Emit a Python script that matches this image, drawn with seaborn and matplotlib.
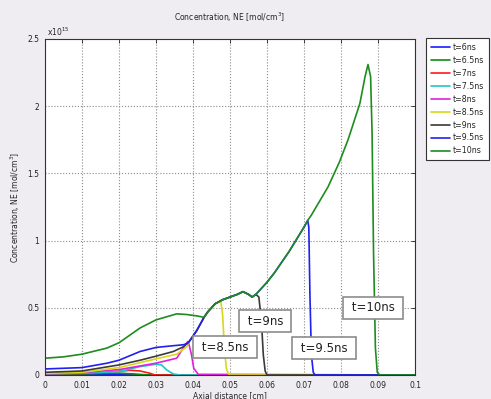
import matplotlib
matplotlib.use('Agg')
import matplotlib.pyplot as plt
import pandas as pd
import seaborn as sns


# values in units of 1e15 mol/cm^3, x in cm
labels = ['t=6ns', 't=6.5ns', 't=7ns', 't=7.5ns', 't=8ns',
          't=8.5ns', 't=9ns', 't=9.5ns', 't=10ns']
line_colors = ['#1a1aff', '#108a10', '#ff1a1a', '#1cc8c8', '#e020e0',
               '#d8d818', '#3a3a3a', '#2020f0', '#1e8c1e']

# shared front of the later curves
front_x = [0.039, 0.040, 0.041, 0.042, 0.043, 0.044, 0.045, 0.046, 0.048,
           0.050, 0.052, 0.0535, 0.055, 0.056, 0.057, 0.058, 0.060, 0.062,
           0.064, 0.066, 0.068, 0.070, 0.071]
front_v = [0.25, 0.29, 0.33, 0.38, 0.43, 0.47, 0.50, 0.53, 0.56,
           0.58, 0.60, 0.62, 0.60, 0.58, 0.60, 0.63, 0.69, 0.76,
           0.84, 0.92, 1.01, 1.10, 1.15]

x_6 = [0, 0.005, 0.01, 0.015, 0.02, 0.025, 0.1]
v_6 = [0.003, 0.005, 0.007, 0.006, 0.003, 0, 0]

x_65 = [0, 0.01, 0.015, 0.02, 0.024, 0.028, 0.1]
v_65 = [0.004, 0.008, 0.012, 0.014, 0.008, 0, 0]

x_7 = [0, 0.01, 0.0167, 0.02, 0.023, 0.0257, 0.0284, 0.0297, 0.1]
v_7 = [0.006, 0.012, 0.02, 0.028, 0.035, 0.03, 0.0125, 0, 0]

x_75 = [0, 0.01, 0.02, 0.0257, 0.03, 0.0315, 0.0329, 0.0347, 0.0365, 0.1]
v_75 = [0.008, 0.014, 0.025, 0.0625, 0.08, 0.075, 0.0375, 0.0075, 0, 0]

x_8 = [0, 0.01, 0.02, 0.03, 0.0356, 0.0383, 0.0387, 0.0396, 0.0402, 0.0414, 0.1]
v_8 = [0.01, 0.018, 0.04, 0.088, 0.125, 0.24, 0.25, 0.15, 0.05, 0.005, 0]

tail_x_85 = [0, 0.01, 0.02, 0.03, 0.0356, 0.0383]
tail_v_85 = [0.012, 0.02, 0.055, 0.12, 0.155, 0.21]
drop_x_85 = [0.0475, 0.048, 0.0485, 0.049, 0.0495, 0.050, 0.1]
drop_v_85 = [0.55, 0.45, 0.2, 0.05, 0.01, 0, 0]

tail_x_9 = [0, 0.01, 0.02, 0.0257, 0.03, 0.0347, 0.0374]
tail_v_9 = [0.02, 0.03, 0.075, 0.11, 0.14, 0.175, 0.21]
drop_x_9 = [0.0578, 0.0585, 0.059, 0.0595, 0.060, 0.1]
drop_v_9 = [0.58, 0.4, 0.15, 0.03, 0, 0]

tail_x_95 = [0, 0.01, 0.0167, 0.02, 0.0257, 0.03, 0.0347, 0.0374, 0.0385]
tail_v_95 = [0.045, 0.055, 0.0875, 0.11, 0.175, 0.205, 0.218, 0.225, 0.235]
drop_x_95 = [0.0713, 0.0716, 0.072, 0.0725, 0.073, 0.1]
drop_v_95 = [1.10, 0.6, 0.15, 0.02, 0, 0]

tail_x_10 = [0, 0.005, 0.01, 0.0167, 0.02, 0.0257, 0.03, 0.0356, 0.0383, 0.041, 0.0428]
tail_v_10 = [0.125, 0.135, 0.155, 0.2, 0.24, 0.35, 0.41, 0.455, 0.45, 0.44, 0.43]
drop_x_10 = [0.072, 0.0765, 0.0795, 0.0819, 0.0851, 0.0865, 0.0873, 0.088,
             0.0884, 0.0888, 0.0893, 0.0898, 0.0905, 0.1]
drop_v_10 = [1.19, 1.40, 1.58, 1.75, 2.02, 2.22, 2.31, 2.22,
             1.8, 0.9, 0.2, 0.02, 0, 0]

# annotation boxes
box_text = ['t=8.5ns', 't=9ns', 't=9.5ns', 't=10ns']
box_x = [0.0486, 0.0595, 0.0754, 0.0886]
box_v = [0.208, 0.40, 0.20, 0.50]


def build(tail_x, tail_v, stop, drop_x, drop_v):
    xs = list(tail_x)
    vs = list(tail_v)
    for fx, fv in zip(front_x, front_v):
        if tail_x[-1] < fx <= stop:
            xs.append(fx)
            vs.append(fv)
    return xs + list(drop_x), vs + list(drop_v)


curves = [
    (x_6, v_6), (x_65, v_65), (x_7, v_7), (x_75, v_75), (x_8, v_8),
    build(tail_x_85, tail_v_85, 0.0465, drop_x_85, drop_v_85),
    build(tail_x_9, tail_v_9, 0.057, drop_x_9, drop_v_9),
    build(tail_x_95, tail_v_95, 0.071, drop_x_95, drop_v_95),
    build(tail_x_10, tail_v_10, 0.071, drop_x_10, drop_v_10),
]

rows = []
for lab, (xs, vs) in zip(labels, curves):
    for xx, vv in zip(xs, vs):
        rows.append({'x': xx, 'v': vv, 't': lab})
df = pd.DataFrame(rows)

sns.set_style('white')
plt.rcParams['font.family'] = ['DejaVu Sans']
bg = '#efecf2'

fig = plt.figure(figsize=(4.91, 3.99), dpi=100, facecolor=bg)
ax = fig.add_axes([45 / 491, 24 / 399, 370 / 491, 336 / 399])
ax.set_facecolor('white')

sns.lineplot(data=df, x='x', y='v', hue='t', hue_order=labels,
             palette=line_colors, estimator=None, sort=False,
             linewidth=1.2, ax=ax, legend=False)

ax.set_xlim(0, 0.1)
ax.set_ylim(0, 2.5)
ax.set_xticks([i / 100 for i in range(11)])
ax.set_xticklabels(['%g' % (i / 100) for i in range(11)])
ax.set_yticks([0, 0.5, 1, 1.5, 2, 2.5])
ax.set_yticklabels(['0', '0.5', '1', '1.5', '2', '2.5'])
ax.grid(True, linestyle=':', color='#8a8a8a', linewidth=0.8)
ax.tick_params(direction='in', top=True, right=True, length=3,
               width=0.6, labelsize=5.5, pad=4, colors='#222222')
for s in ax.spines.values():
    s.set_color('#333333')
    s.set_linewidth(0.8)

ax.set_xlabel('Axial distance [cm]', fontsize=5.5, labelpad=1)
ax.set_ylabel('Concentration, NE [mol/cm$^3$]', fontsize=5.5, labelpad=4)
ax.set_title('Concentration, NE [mol/cm$^3$]', fontsize=5.5, pad=13)
ax.text(0.005, 1.004, r'x10$^{15}$', transform=ax.transAxes,
        fontsize=5.5, ha='left', va='bottom')

for txt, bx, bv in zip(box_text, box_x, box_v):
    ax.text(bx, bv, ' ' + txt + ' ', ha='center', va='center', fontsize=8.5,
            zorder=5, color='#222222',
            bbox=dict(boxstyle='square,pad=0.4', fc='white',
                      ec='#8c8c8c', lw=1.2))

handles = ax.get_lines()[:len(labels)]
leg = ax.legend(handles, labels, loc='upper left',
                bbox_to_anchor=(426 / 491, 1 - 38 / 399),
                bbox_transform=fig.transFigure, borderaxespad=0,
                fontsize=5.7, handlelength=2.4, labelspacing=0.5,
                handletextpad=0.4, borderpad=0.6, frameon=True,
                fancybox=False, framealpha=1)
leg.get_frame().set_edgecolor('#333333')
leg.get_frame().set_linewidth(0.8)

fig.savefig('out.png', dpi=100, facecolor=bg)
